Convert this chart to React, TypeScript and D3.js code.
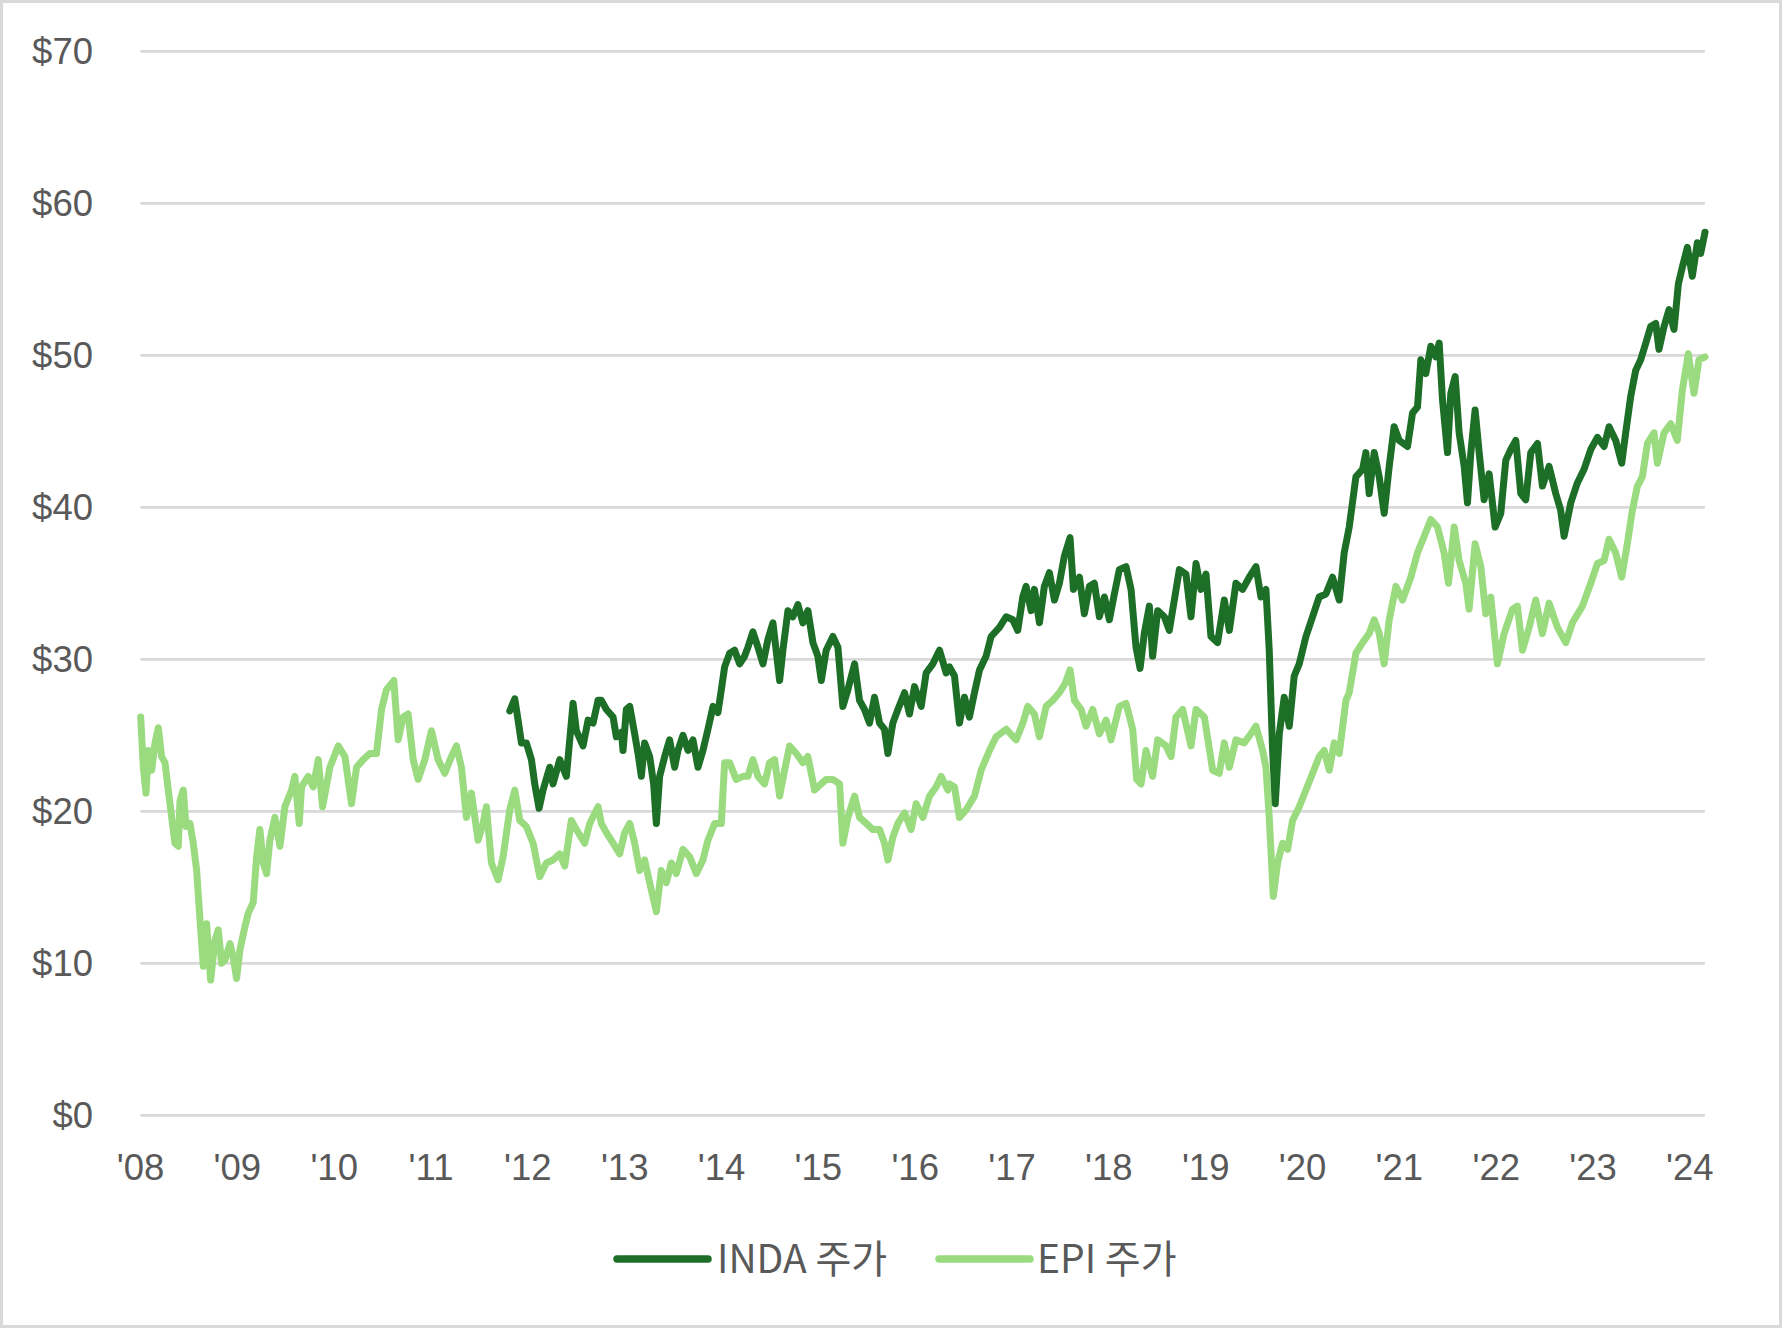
import React from "react";
import * as d3 from "d3";

const yTicks = [0, 10, 20, 30, 40, 50, 60, 70];
const xTickYears = [2008, 2009, 2010, 2011, 2012, 2013, 2014, 2015, 2016, 2017, 2018, 2019, 2020, 2021, 2022, 2023, 2024];
const xTickLabels = ["'08", "'09", "'10", "'11", "'12", "'13", "'14", "'15", "'16", "'17", "'18", "'19", "'20", "'21", "'22", "'23", "'24"];

const seriesNames = ["INDA 주가", "EPI 주가"];
const seriesColors = ["#1D6F27", "#9ADB80"];

const epiYears = [
  2008.002, 2008.029, 2008.057, 2008.081, 2008.115, 2008.150, 2008.184, 2008.218, 2008.253, 2008.287,
  2008.322, 2008.356, 2008.390, 2008.408, 2008.442, 2008.470, 2008.511, 2008.545, 2008.580, 2008.614,
  2008.649, 2008.683, 2008.724, 2008.769, 2008.803, 2008.838, 2008.872, 2008.924, 2008.958, 2008.992,
  2009.027, 2009.078, 2009.113, 2009.164, 2009.199, 2009.233, 2009.267, 2009.302, 2009.336, 2009.388,
  2009.440, 2009.491, 2009.560, 2009.594, 2009.639, 2009.663, 2009.732, 2009.784, 2009.836, 2009.880,
  2009.956, 2010.042, 2010.111, 2010.179, 2010.231, 2010.300, 2010.368, 2010.437, 2010.489, 2010.540,
  2010.616, 2010.661, 2010.712, 2010.764, 2010.816, 2010.867, 2010.936, 2011.005, 2011.073, 2011.142,
  2011.211, 2011.263, 2011.314, 2011.366, 2011.417, 2011.486, 2011.538, 2011.572, 2011.624, 2011.693,
  2011.744, 2011.813, 2011.865, 2011.916, 2011.985, 2012.054, 2012.123, 2012.191, 2012.260, 2012.329,
  2012.381, 2012.449, 2012.501, 2012.587, 2012.639, 2012.725,
  2012.759, 2012.811, 2012.880, 2012.948, 2013.000, 2013.052, 2013.103, 2013.155, 2013.206, 2013.258,
  2013.327, 2013.378, 2013.430, 2013.482, 2013.533, 2013.602, 2013.671, 2013.740, 2013.808, 2013.860,
  2013.929, 2013.998, 2014.032, 2014.084, 2014.152, 2014.221, 2014.273, 2014.324, 2014.376, 2014.445,
  2014.496, 2014.548, 2014.600, 2014.651, 2014.703, 2014.772, 2014.840, 2014.892, 2014.961, 2015.030,
  2015.081, 2015.150, 2015.219, 2015.253, 2015.305, 2015.374, 2015.425, 2015.494, 2015.563, 2015.632,
  2015.683, 2015.718, 2015.769, 2015.821, 2015.890, 2015.958, 2016.010, 2016.079, 2016.148, 2016.216,
  2016.268, 2016.337,
  2016.354, 2016.406, 2016.457, 2016.526, 2016.612, 2016.681, 2016.767, 2016.836, 2016.939, 2017.042,
  2017.111, 2017.162, 2017.231, 2017.283, 2017.352, 2017.420, 2017.489, 2017.548, 2017.599, 2017.644,
  2017.713, 2017.764, 2017.833, 2017.902, 2017.971, 2018.022, 2018.108, 2018.177, 2018.246, 2018.287,
  2018.332, 2018.384, 2018.452, 2018.504, 2018.590, 2018.642, 2018.693, 2018.762, 2018.848, 2018.900,
  2018.986, 2019.072, 2019.140, 2019.192, 2019.244, 2019.312, 2019.398, 2019.467, 2019.519, 2019.588,
  2019.622, 2019.656, 2019.698, 2019.742, 2019.794, 2019.846, 2019.897, 2019.966, 2020.035, 2020.104,
  2020.172, 2020.224, 2020.276, 2020.327, 2020.379, 2020.448,
  2020.482, 2020.551, 2020.620, 2020.688, 2020.740, 2020.792, 2020.843, 2020.895, 2020.964, 2021.032,
  2021.118, 2021.187, 2021.256, 2021.325, 2021.394, 2021.462, 2021.507, 2021.566, 2021.617, 2021.686,
  2021.720, 2021.782, 2021.841, 2021.892, 2021.944, 2022.013, 2022.082, 2022.168, 2022.219, 2022.271,
  2022.340, 2022.408, 2022.477, 2022.546, 2022.632, 2022.718, 2022.787, 2022.890, 2022.976, 2023.045,
  2023.114, 2023.165, 2023.234, 2023.296, 2023.354, 2023.406, 2023.458, 2023.509, 2023.561, 2023.630,
  2023.664, 2023.733, 2023.802, 2023.870, 2023.922, 2023.984, 2024.042, 2024.094, 2024.156,
];
const epiValues = [
  26.2, 22.9, 21.2, 24.0, 22.7, 24.5, 25.5, 23.6, 23.2, 21.4,
  19.6, 17.9, 17.7, 20.7, 21.4, 19.0, 19.2, 17.9, 16.1, 12.9,
  9.8, 12.6, 8.9, 11.5, 12.2, 10.0, 10.2, 11.3, 10.4, 9.0,
  10.9, 12.4, 13.3, 14.0, 17.0, 18.8, 16.6, 15.9, 18.1, 19.6,
  17.7, 20.3, 21.4, 22.3, 19.2, 21.6, 22.3, 21.6, 23.4, 20.3,
  22.9, 24.3, 23.6, 20.5, 22.9, 23.4, 23.8, 23.8, 26.7, 28.0,
  28.6, 24.7, 26.2, 26.4, 23.4, 22.1, 23.4, 25.3, 23.4, 22.5,
  23.6, 24.3, 22.9, 19.6, 21.2, 18.1, 19.2, 20.3, 16.6, 15.5,
  17.0, 20.1, 21.4, 19.4, 19.0, 17.9, 15.7, 16.6, 16.8, 17.2,
  16.4, 19.4, 18.8, 17.9, 19.2, 20.3,
  19.2, 18.6, 17.9, 17.2, 18.6, 19.2, 17.9, 16.1, 16.8, 15.3,
  13.4, 16.1, 15.3, 16.6, 15.9, 17.5, 17.0, 15.9, 16.8, 18.1,
  19.2, 19.2, 23.2, 23.2, 22.1, 22.3, 22.3, 23.4, 22.3, 21.8,
  23.2, 23.4, 21.0, 22.7, 24.3, 23.8, 23.2, 23.6, 21.4, 21.8,
  22.1, 22.1, 21.8, 17.9, 19.6, 21.0, 19.6, 19.2, 18.8, 18.8,
  17.9, 16.8, 18.3, 19.2, 19.9, 18.8, 20.5, 19.6, 21.0, 21.6,
  22.3, 21.4,
  21.8, 21.6, 19.6, 20.1, 21.0, 22.7, 24.0, 24.9, 25.4, 24.7,
  25.8, 26.9, 26.4, 24.9, 26.9, 27.3, 27.8, 28.4, 29.3, 27.3,
  26.7, 25.6, 26.7, 25.1, 26.0, 24.7, 26.9, 27.1, 25.4, 22.1,
  21.8, 24.0, 22.3, 24.7, 24.3, 23.6, 26.2, 26.7, 24.3, 26.7,
  26.2, 22.7, 22.5, 24.5, 22.9, 24.7, 24.5, 25.1, 25.6, 24.0,
  22.9, 19.6, 14.4, 16.6, 17.9, 17.5, 19.4, 20.3, 21.4, 22.5,
  23.6, 24.0, 22.7, 24.5, 23.8, 27.3,
  27.8, 30.4, 31.1, 31.7, 32.6, 31.7, 29.7, 32.6, 34.8, 33.9,
  35.4, 37.0, 38.1, 39.2, 38.7, 37.0, 35.0, 38.7, 36.5, 35.0,
  33.3, 37.6, 36.1, 33.0, 34.1, 29.7, 31.7, 33.3, 33.5, 30.6,
  32.1, 33.9, 31.7, 33.7, 32.1, 31.1, 32.4, 33.5, 35.0, 36.3,
  36.5, 37.9, 37.0, 35.4, 37.6, 39.8, 41.4, 42.0, 44.2, 44.9,
  42.9, 44.9, 45.5, 44.4, 47.7, 50.1, 47.5, 49.7, 49.9,
];

const indaYears = [
  2011.813, 2011.865, 2011.899, 2011.934, 2011.985, 2012.037, 2012.071, 2012.116, 2012.157, 2012.226,
  2012.260, 2012.329, 2012.398, 2012.467, 2012.501, 2012.570, 2012.622, 2012.673, 2012.725,
  2012.759, 2012.811, 2012.880, 2012.914, 2012.966, 2012.983, 2013.017, 2013.052, 2013.103, 2013.138,
  2013.172, 2013.206, 2013.258, 2013.299, 2013.327, 2013.361, 2013.413, 2013.464, 2013.516, 2013.550,
  2013.602, 2013.654, 2013.705, 2013.757, 2013.808, 2013.860, 2013.912, 2013.963, 2013.998, 2014.032,
  2014.084, 2014.135, 2014.187, 2014.238, 2014.273, 2014.324, 2014.376, 2014.428, 2014.479, 2014.531,
  2014.600, 2014.634, 2014.686, 2014.737, 2014.789, 2014.840, 2014.892, 2014.944, 2014.995, 2015.030,
  2015.081, 2015.150, 2015.202, 2015.253, 2015.305, 2015.374, 2015.425, 2015.477, 2015.528, 2015.580,
  2015.632, 2015.683, 2015.718, 2015.769, 2015.821, 2015.890, 2015.941, 2015.993, 2016.062, 2016.113,
  2016.182, 2016.251, 2016.320,
  2016.354, 2016.406, 2016.457, 2016.509, 2016.560, 2016.612, 2016.664, 2016.732, 2016.784, 2016.870,
  2016.939, 2017.008, 2017.059, 2017.111, 2017.145, 2017.197, 2017.231, 2017.283, 2017.334, 2017.386,
  2017.438, 2017.489, 2017.541, 2017.599, 2017.634, 2017.696, 2017.747, 2017.799, 2017.850, 2017.902,
  2017.954, 2018.005, 2018.057, 2018.108, 2018.177, 2018.229, 2018.280, 2018.322, 2018.366, 2018.418,
  2018.452, 2018.504, 2018.573, 2018.624, 2018.676, 2018.728, 2018.796, 2018.848, 2018.900, 2018.951,
  2019.003, 2019.054, 2019.123, 2019.192, 2019.244, 2019.312, 2019.381, 2019.450, 2019.519, 2019.570,
  2019.622, 2019.656, 2019.691, 2019.718, 2019.760, 2019.811, 2019.863, 2019.914, 2019.966, 2020.035,
  2020.104, 2020.172, 2020.241, 2020.310, 2020.379, 2020.430, 2020.482,
  2020.551, 2020.620, 2020.654, 2020.688, 2020.740, 2020.792, 2020.843, 2020.895, 2020.946, 2020.998,
  2021.084, 2021.136, 2021.187, 2021.222, 2021.273, 2021.325, 2021.376, 2021.411, 2021.445, 2021.497,
  2021.531, 2021.576, 2021.617, 2021.669, 2021.703, 2021.738, 2021.782, 2021.824, 2021.875, 2021.927,
  2021.989, 2022.047, 2022.099, 2022.150, 2022.202, 2022.254, 2022.305, 2022.357, 2022.426, 2022.477,
  2022.546, 2022.615, 2022.666, 2022.701, 2022.770, 2022.838, 2022.907, 2022.976, 2023.045, 2023.114,
  2023.165, 2023.234, 2023.296, 2023.337, 2023.389, 2023.440, 2023.492, 2023.544, 2023.595, 2023.647,
  2023.681, 2023.733, 2023.784, 2023.836, 2023.881, 2023.922, 2023.974, 2024.025, 2024.077, 2024.111,
  2024.156,
];
const indaValues = [
  26.6, 27.4, 26.0, 24.5, 24.5, 23.4, 21.8, 20.2, 21.4, 22.9,
  21.8, 23.4, 22.3, 27.1, 25.3, 24.3, 26.0, 25.8, 27.3,
  27.3, 26.7, 26.2, 24.9, 25.2, 24.0, 26.7, 26.9, 25.1, 23.8,
  22.3, 24.5, 23.6, 21.8, 19.2, 22.3, 23.6, 24.7, 22.9, 24.0,
  25.0, 24.0, 24.7, 22.9, 24.0, 25.4, 26.9, 26.5, 28.0, 29.5,
  30.4, 30.6, 29.7, 30.2, 30.8, 31.8, 30.8, 29.7, 31.3, 32.4,
  28.6, 30.6, 33.2, 32.8, 33.6, 32.4, 33.2, 31.1, 30.2, 28.6,
  30.6, 31.5, 30.8, 26.9, 28.0, 29.7, 27.3, 26.7, 25.8, 27.5,
  25.8, 25.4, 23.8, 25.8, 26.7, 27.8, 26.4, 28.2, 26.9, 29.1,
  29.7, 30.6, 29.1,
  29.5, 28.9, 25.8, 27.5, 26.2, 27.8, 29.3, 30.2, 31.5, 32.1,
  32.8, 32.6, 31.9, 34.1, 34.8, 33.2, 34.6, 32.4, 34.8, 35.7,
  33.9, 35.0, 36.8, 38.0, 34.6, 35.4, 33.0, 34.8, 35.0, 32.8,
  34.1, 32.6, 34.3, 35.9, 36.1, 34.6, 30.8, 29.4, 31.7, 33.5,
  30.2, 33.2, 32.8, 31.9, 33.9, 35.9, 35.6, 32.8, 36.3, 34.6,
  35.6, 31.5, 31.1, 33.9, 31.9, 35.0, 34.6, 35.4, 36.1, 34.1,
  34.6, 30.6, 24.0, 20.5, 25.1, 27.5, 25.6, 28.9, 29.7, 31.5,
  32.8, 34.1, 34.3, 35.4, 33.9, 37.0, 38.7,
  42.0, 42.5, 43.6, 40.9, 43.6, 42.0, 39.6, 42.7, 45.3, 44.4,
  44.0, 46.2, 46.6, 49.7, 48.8, 50.6, 49.9, 50.8, 47.1, 43.6,
  47.5, 48.6, 44.9, 42.7, 40.3, 43.6, 46.4, 43.6, 40.5, 42.2,
  38.7, 39.6, 43.1, 43.8, 44.4, 40.9, 40.5, 43.6, 44.2, 41.4,
  42.7, 40.9, 39.8, 38.1, 40.3, 41.6, 42.5, 43.8, 44.6, 44.0,
  45.3, 44.4, 42.9, 44.9, 47.3, 49.0, 49.7, 50.8, 51.9, 52.1,
  50.4, 51.9, 53.0, 51.7, 54.7, 55.8, 57.1, 55.2, 57.4, 56.7,
  58.1,
];

const W = 1782;
const H = 1328;
const TEXT = "#595959";
const GRID = "#D9D9D9";

export default function App() {
  const x = d3.scaleLinear().domain([2008, 2024.156]).range([140.5, 1705]);
  const y = d3.scaleLinear().domain([0, 70]).range([1115.3, 51.3]);

  const line = d3
    .line<[number, number]>()
    .x((d) => x(d[0]))
    .y((d) => y(d[1]));

  const epi: [number, number][] = epiYears.map((t, i) => [t, epiValues[i]]);
  const inda: [number, number][] = indaYears.map((t, i) => [t, indaValues[i]]);

  const legendItems = [
    { name: seriesNames[0], color: seriesColors[0], x0: 617, x1: 708, tx: 717 },
    { name: seriesNames[1], color: seriesColors[1], x0: 939, x1: 1030, tx: 1037 },
  ];

  return (
    <svg
      width={W}
      height={H}
      style={{ position: "absolute", left: 0, top: 0, background: "#fff" }}
      xmlns="http://www.w3.org/2000/svg"
    >
      <rect x={1.5} y={1.5} width={W - 3} height={H - 3} fill="#fff" stroke={GRID} strokeWidth={3} />
      {yTicks.map((v) => (
        <g key={v}>
          <line x1={140.5} x2={1705} y1={y(v)} y2={y(v)} stroke={GRID} strokeWidth={2.7} />
          <text
            x={93}
            y={y(v)}
            dy="0.35em"
            textAnchor="end"
            fontFamily="'Liberation Sans', Arial, sans-serif"
            fontSize={36.5}
            fill={TEXT}
          >
            {"$" + v}
          </text>
        </g>
      ))}
      {xTickYears.map((yr, i) => (
        <text
          key={yr}
          x={x(yr)}
          y={1180}
          textAnchor="middle"
          fontFamily="'Liberation Sans', Arial, sans-serif"
          fontSize={36.5}
          fill={TEXT}
        >
          {xTickLabels[i]}
        </text>
      ))}
      <path d={line(epi) || ""} fill="none" stroke={seriesColors[1]} strokeWidth={7} strokeLinejoin="round" strokeLinecap="round" />
      <path d={line(inda) || ""} fill="none" stroke={seriesColors[0]} strokeWidth={7} strokeLinejoin="round" strokeLinecap="round" />
      {legendItems.map((it) => (
        <g key={it.name}>
          <line x1={it.x0} x2={it.x1} y1={1259} y2={1259} stroke={it.color} strokeWidth={7.5} strokeLinecap="round" />
          <text
            x={it.tx}
            y={1273}
            fontFamily="'Noto Sans CJK KR', 'Noto Sans', sans-serif"
            fontSize={39}
            fill={TEXT}
          >
            {it.name}
          </text>
        </g>
      ))}
    </svg>
  );
}
